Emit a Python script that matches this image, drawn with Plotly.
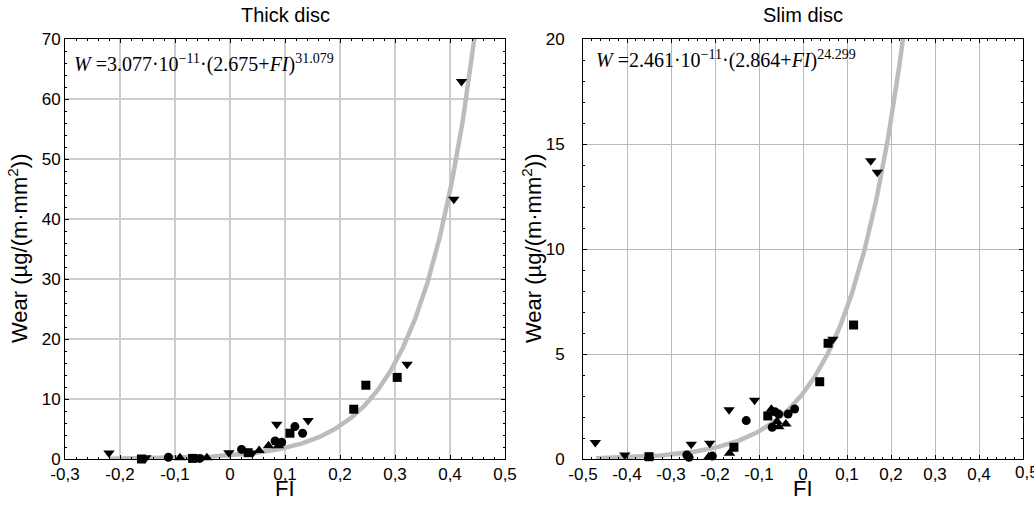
import numpy as np
import plotly.graph_objects as go

# ---- Thick disc measurements (FI, wear) ----
thick_tdown_fi = [-0.220, -0.153, -0.002, 0.041, 0.085, 0.142, 0.322, 0.407, 0.421]
thick_tdown_w = [1.0, 0.2, 1.05, 1.0, 5.8, 6.4, 15.8, 43.3, 62.9]
thick_square_fi = [-0.161, -0.068, 0.033, 0.109, 0.225, 0.247, 0.304]
thick_square_w = [0.0, 0.1, 1.05, 4.3, 8.3, 12.3, 13.6]
thick_circle_fi = [-0.112, -0.055, 0.021, 0.082, 0.094, 0.118, 0.132]
thick_circle_w = [0.3, 0.1, 1.6, 3.0, 2.8, 5.4, 4.3]
thick_tup_fi = [-0.091, -0.042, 0.053, 0.070, 0.088]
thick_tup_w = [0.2, 0.2, 1.4, 2.2, 2.2]

# ---- Slim disc measurements (FI, wear) ----
slim_tdown_fi = [-0.472, -0.405, -0.254, -0.212, -0.168, -0.110, 0.068, 0.154, 0.169]
slim_tdown_w = [0.78, 0.19, 0.70, 0.75, 2.35, 2.80, 5.70, 14.20, 13.65]
slim_square_fi = [-0.350, -0.157, -0.080, 0.038, 0.057, 0.115]
slim_square_w = [0.11, 0.56, 2.05, 3.68, 5.51, 6.38]
slim_circle_fi = [-0.264, -0.259, -0.206, -0.129, -0.064, -0.055, -0.070, -0.034, -0.019]
slim_circle_w = [0.19, 0.08, 0.14, 1.83, 2.25, 2.14, 1.51, 2.14, 2.38]
slim_tup_fi = [-0.214, -0.167, -0.072, -0.059, -0.055, -0.039]
slim_tup_w = [0.11, 0.27, 2.37, 1.78, 1.54, 1.67]

# ---- Fitted power laws W = a * (b + FI)^c ----
thick_fit = dict(a=3.077e-11, b=2.675, c=31.079, scale=1e-3, fi_min=-0.22, fi_max=0.46)
slim_fit = dict(a=2.461e-11, b=2.864, c=24.299, scale=1.0, fi_min=-0.47, fi_max=0.24)

# ---- Tick labels (decimal comma) ----
thick_x_ticks = [-0.3, -0.2, -0.1, 0.0, 0.1, 0.2, 0.3, 0.4, 0.5]
thick_x_text = ["-0,3", "-0,2", "-0,1", "0", "0,1", "0,2", "0,3", "0,4", "0,5"]
slim_x_ticks = [-0.5, -0.4, -0.3, -0.2, -0.1, 0.0, 0.1, 0.2, 0.3, 0.4, 0.5]
slim_x_text = ["-0,5", "-0,4", "-0,3", "-0,2", "-0,1", "0", "0,1", "0,2", "0,3", "0,4", "0,5"]

x_title = "FI"
y_title = "Wear (µg/(m·mm<sup>2</sup>))"


def fit_curve(p):
    fi = np.linspace(p["fi_min"], p["fi_max"], 400)
    w = p["scale"] * p["a"] * (p["b"] + fi) ** p["c"]
    return fi, w


fig = go.Figure()

markers = [("triangle-down", 10), ("square", 9), ("circle", 9), ("triangle-up", 10)]


def add_panel(fit, groups, xa, ya):
    fi, w = fit_curve(fit)
    fig.add_trace(go.Scatter(x=fi, y=w, mode="lines", xaxis=xa, yaxis=ya,
                             line=dict(color="#bcbcbc", width=4.5),
                             showlegend=False, hoverinfo="skip"))
    for (sym, size), (xs, ys) in zip(markers, groups):
        fig.add_trace(go.Scatter(x=xs, y=ys, mode="markers", xaxis=xa, yaxis=ya,
                                 marker=dict(symbol=sym, size=size, color="black",
                                             line=dict(width=0)),
                                 showlegend=False, cliponaxis=False))


add_panel(thick_fit,
          [(thick_tdown_fi, thick_tdown_w), (thick_square_fi, thick_square_w),
           (thick_circle_fi, thick_circle_w), (thick_tup_fi, thick_tup_w)],
          "x", "y")
add_panel(slim_fit,
          [(slim_tdown_fi, slim_tdown_w), (slim_square_fi, slim_square_w),
           (slim_circle_fi, slim_circle_w), (slim_tup_fi, slim_tup_w)],
          "x2", "y2")

W, H = 1034, 510
tick_font = dict(family="Liberation Sans, Arial", size=17, color="black")
title_font = dict(family="Liberation Sans, Arial", size=22, color="black")

common_axis = dict(showline=True, linecolor="black", linewidth=1, mirror="allticks",
                   ticks="inside", ticklen=4, tickcolor="black", tickfont=tick_font,
                   zeroline=False, showgrid=True, automargin=False)

fig.update_layout(
    width=W, height=H,
    margin=dict(l=0, r=0, t=0, b=0, autoexpand=False),
    paper_bgcolor="white", plot_bgcolor="white",
    xaxis=dict(domain=[65 / W, 505 / W], range=[-0.3, 0.5], anchor="y",
               tickvals=thick_x_ticks, ticktext=thick_x_text,
               gridcolor="#cdcdcd", gridwidth=2,
               minor=dict(ticks="inside", ticklen=2, dtick=0.02, tickcolor="black", showgrid=False),
               **common_axis),
    yaxis=dict(domain=[51 / H, 471 / H], range=[0, 70], anchor="x",
               dtick=10, gridcolor="#cdcdcd", gridwidth=2,
               minor=dict(ticks="inside", ticklen=2, dtick=2, tickcolor="black", showgrid=False),
               **common_axis),
    # last label ("0,5") of the slim panel is placed separately as it runs past the page edge
    xaxis2=dict(domain=[583 / W, 1023 / W], range=[-0.5, 0.5], anchor="y2",
                tickvals=slim_x_ticks, ticktext=slim_x_text[:-1] + [""],
                gridcolor="#b9b9b9", gridwidth=1,
                minor=dict(ticks="inside", ticklen=2, dtick=0.02, tickcolor="black", showgrid=False),
                **common_axis),
    yaxis2=dict(domain=[51 / H, 471 / H], range=[0, 20], anchor="x2",
                dtick=5, gridcolor="#b9b9b9", gridwidth=1, ticklabelstandoff=14,
                minor=dict(ticks="inside", ticklen=2, dtick=1, tickcolor="black", showgrid=False),
                **common_axis),
)

fig.add_annotation(text=slim_x_text[-1], xref="x2", yref="paper",
                   x=slim_x_ticks[-1], y=(H - 472) / H, xanchor="center", yanchor="middle",
                   xshift=4, showarrow=False, font=tick_font)

# axis titles
for xc in (285, 803):
    fig.add_annotation(text=x_title, xref="paper", yref="paper",
                       x=xc / W, y=(H - 488) / H, xanchor="center", yanchor="middle",
                       showarrow=False, font=title_font)
for xc in (18, 532):
    fig.add_annotation(text=y_title, xref="paper", yref="paper", textangle=-90,
                       x=xc / W, y=(H - 249) / H, xanchor="center", yanchor="middle",
                       showarrow=False, font=title_font)

panel_title_font = dict(family="Liberation Sans, Arial", size=20, color="black")
formula_font = dict(family="Liberation Serif, Times New Roman", size=20, color="black")

fig.add_annotation(text="Thick disc", xref="paper", yref="paper",
                   x=285 / W, y=(H - 15) / H, xanchor="center", yanchor="middle",
                   showarrow=False, font=panel_title_font)
fig.add_annotation(text="Slim disc", xref="paper", yref="paper",
                   x=803 / W, y=(H - 15) / H, xanchor="center", yanchor="middle",
                   showarrow=False, font=panel_title_font)


def formula_text(p):
    return ("<i>W</i> =%.3f·10<sup>−11</sup>·(%.3f+<i>FI</i>)<sup>%.3f</sup>"
            % (p["a"] / 1e-11, p["b"], p["c"]))


fig.add_annotation(text=formula_text(thick_fit), xref="paper", yref="paper",
                   x=72 / W, y=(H - 63) / H, xanchor="left", yanchor="middle",
                   showarrow=False, font=formula_font)
fig.add_annotation(text=formula_text(slim_fit), xref="paper", yref="paper",
                   x=594 / W, y=(H - 59) / H, xanchor="left", yanchor="middle",
                   showarrow=False, font=formula_font)

fig.write_html("out.html")
